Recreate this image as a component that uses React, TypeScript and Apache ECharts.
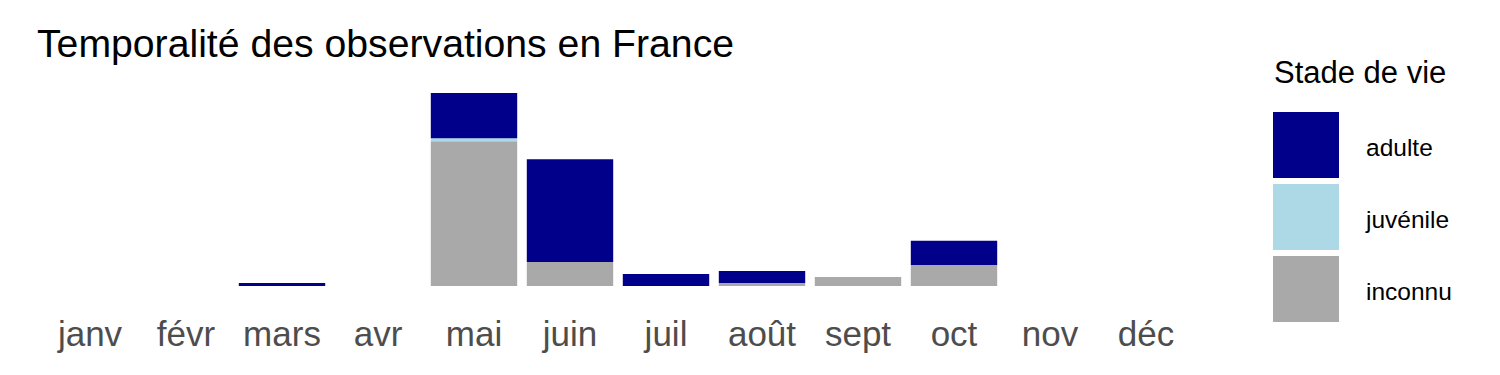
import React, { useEffect, useRef } from "react";
import * as echarts from "echarts";

const months = ["janv", "févr", "mars", "avr", "mai", "juin", "juil", "août", "sept", "oct", "nov", "déc"];
const inconnu = [0, 0, 0, 0, 48, 8, 0, 1, 3, 7, 0, 0];
const juvenile = [0, 0, 0, 0, 1, 0, 0, 0, 0, 0, 0, 0];
const adulte = [0, 0, 1, 0, 15, 34, 4, 4, 0, 8, 0, 0];
const legendOrder = ["adulte", "juvénile", "inconnu"];

const FONT = "'Liberation Sans', Arial, sans-serif";

export default function App() {
  const ref = useRef<HTMLDivElement>(null);
  useEffect(() => {
    document.body.style.margin = "0";
    const chart = echarts.init(ref.current!, null, { renderer: "svg" });
    chart.setOption({
      animation: false,
      backgroundColor: "#ffffff",
      textStyle: { fontFamily: FONT },
      title: [
        {
          text: "Temporalité des observations en France",
          left: 32,
          top: 19,
          textStyle: { fontFamily: FONT, fontSize: 39.2, fontWeight: "normal", color: "#000000" },
        },
        {
          text: "Stade de vie",
          left: 1269,
          top: 52,
          textStyle: { fontFamily: FONT, fontSize: 31, fontWeight: "normal", color: "#000000" },
        },
      ],
      legend: {
        data: legendOrder,
        orient: "vertical",
        left: 1273,
        top: 112,
        itemWidth: 66,
        itemHeight: 66,
        itemGap: 6,
        icon: "rect",
        padding: 0,
        formatter: "{a|{name}}",
        textStyle: {
          fontFamily: FONT,
          fontSize: 24.5,
          color: "#000000",
          rich: { a: { fontFamily: FONT, fontSize: 24.5, color: "#000000", padding: [5, 0, 0, 22] } },
        },
      },
      grid: { left: 42, right: 306, top: 93, bottom: 89 },
      xAxis: {
        type: "category",
        data: months,
        axisLine: { show: false },
        axisTick: { show: false },
        axisLabel: { fontFamily: FONT, fontSize: 35, color: "#4D4D4D", margin: 30, interval: 0 },
      },
      yAxis: {
        type: "value",
        min: 0,
        max: 64,
        show: false,
        splitLine: { show: false },
      },
      series: [
        { name: "inconnu", type: "bar", stack: "s", data: inconnu, barCategoryGap: "10%", itemStyle: { color: "#A9A9A9" } },
        { name: "juvénile", type: "bar", stack: "s", data: juvenile, itemStyle: { color: "#ADD8E6" } },
        { name: "adulte", type: "bar", stack: "s", data: adulte, itemStyle: { color: "#00008B" } },
      ],
    });
    return () => chart.dispose();
  }, []);
  return <div ref={ref} style={{ width: 1500, height: 375 }} />;
}
